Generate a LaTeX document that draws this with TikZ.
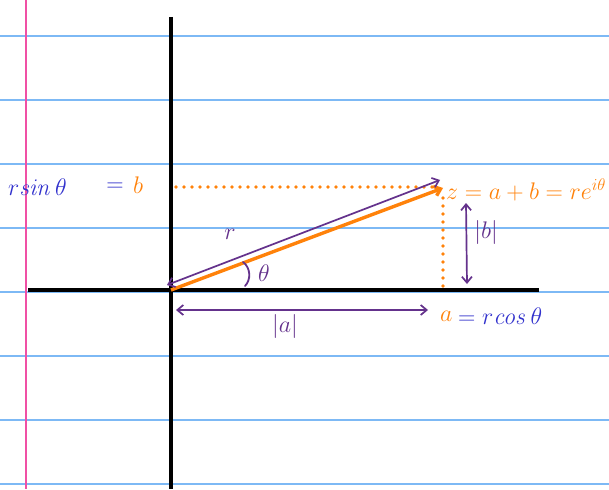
\RequirePackage{fix-cm}
\documentclass[tikz,border=0pt]{standalone}
\usetikzlibrary{arrows.meta}
\definecolor{ruleblue}{RGB}{125,185,245}
\definecolor{marginpink}{RGB}{240,80,165}
\definecolor{vecorange}{RGB}{255,130,10}
\definecolor{inkpurple}{RGB}{100,50,140}
\definecolor{inkblue}{RGB}{50,50,205}
\tikzset{
  rule/.style={ruleblue, line width=1.5pt},
  axisline/.style={black, line width=3.2pt},
  vec/.style={vecorange, line width=3.4pt, -{Straight Barb[length=6pt,width=10pt]}},
  dots/.style={vecorange, line width=3.6pt, line cap=round, dash pattern=on 0pt off 8pt},
  meas/.style={inkpurple, line width=1.7pt, {Straight Barb[length=6pt,width=10pt]}-{Straight Barb[length=6pt,width=10pt]}},
  lbl/.style={inner sep=0pt, font=\fontsize{24}{24}\selectfont},
}
\begin{document}
\begin{tikzpicture}[x=1pt,y=-1pt]
\useasboundingbox (0,0) rectangle (609,489);
\fill[white] (0,0) rectangle (609,489);
% ruled paper
\foreach \yy in {36,100,164,228,292,356,420,484}
  \draw[rule] (0,\yy) -- (609,\yy);
\draw[marginpink, line width=1.5pt] (26,0) -- (26,489);
% axes
\coordinate (ytop) at (171,17);
\coordinate (ybot) at (171,489);
\coordinate (xl) at (28,290);
\coordinate (xr) at (539,290);
\draw[axisline] (ytop) -- (ybot);
\draw[axisline] (xl) -- (xr);
% points
\coordinate (O) at (171,290);
\coordinate (Z) at (443,188);
\coordinate (A) at (443,290);
\coordinate (Bl) at (176,187);
% dotted projections
\draw[dots] (Bl) -- (436,187);
\draw[dots] (443,198) -- (A);
% vector
\draw[vec] (O) -- (Z);
% measurements
\coordinate (r1) at (167,285);
\coordinate (r2) at (440,180);
\draw[meas] (r1) -- (r2);
\coordinate (a1) at (176,310);
\coordinate (a2) at (428,310);
\draw[meas] (a1) -- (a2);
\coordinate (b1) at (466,203);
\coordinate (b2) at (467,284);
\draw[meas] (b1) -- (b2);
% angle
\draw[inkpurple, line width=1.8pt, line cap=round] (243,262) .. controls (251,268) and (251,280) .. (245,286);
% labels
\node[lbl, text=inkpurple] (rl) at (230,234) {$r$};
\node[lbl, text=inkpurple] (th) at (264,273) {$\theta$};
\node[lbl, text=inkpurple] (al) at (285,326) {$|a|$};
\node[lbl, text=inkpurple] (bl) at (486,232) {$|b|$};
\node[lbl, text=inkblue, anchor=west] (rs) at (8,187) {$r\mathit{sin}\,\theta$};
\node[lbl, text=inkblue] (eq) at (115,187) {$=$};
\node[lbl, text=vecorange] (bb) at (138,185) {$b$};
\node[lbl, text=vecorange, anchor=west] (zl) at (446,190) {$z=a+b=re^{i\theta}$};
\node[lbl, text=vecorange, anchor=west] (aa) at (440,316) {$a$};
\node[lbl, text=inkblue, anchor=west] (ac) at (458,316) {$=r\mathit{cos}\,\theta$};
\end{tikzpicture}
\end{document}
